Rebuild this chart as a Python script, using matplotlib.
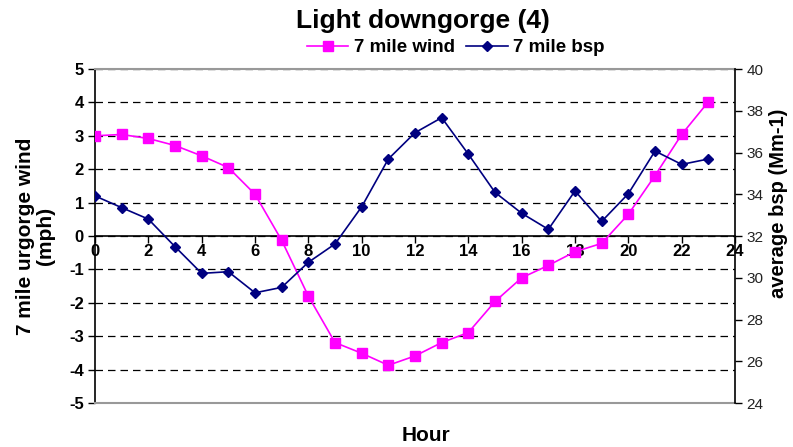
import matplotlib.pyplot as plt
import numpy as np

hours = list(range(24))
wind = [3.0, 3.04, 2.92, 2.71, 2.40, 2.05, 1.25, -0.13, -1.80, -3.19, -3.51, -3.87,
        -3.59, -3.19, -2.89, -1.96, -1.25, -0.88, -0.47, -0.22, 0.65, 1.81, 3.04, 4.02]
bsp = [33.92, 33.36, 32.81, 31.49, 30.21, 30.29, 29.28, 29.54, 30.74, 31.62, 33.40, 35.69,
       36.95, 37.67, 35.92, 34.09, 33.09, 32.32, 34.16, 32.70, 34.03, 36.07, 35.43, 35.69]
x_ticks = list(range(0, 25, 2))
wind_ticks = list(range(-5, 6))
bsp_ticks = list(range(24, 41, 2))

plt.rcParams['font.family'] = ['Liberation Sans', 'DejaVu Sans']

fig = plt.figure(figsize=(7.93, 4.47), dpi=100)
ax = fig.add_axes([0.1198, 0.0984, 0.8071, 0.7472])
ax2 = ax.twinx()

# spine position first: it resets the ticks
ax.spines['bottom'].set_position(('data', 0))
ax.spines['bottom'].set_linewidth(1.2)
ax.spines['left'].set_linewidth(1.2)
ax.spines['top'].set_color('#999999')
ax.spines['top'].set_linewidth(1.5)
ax.spines['right'].set_visible(False)

# left axis: wind
ax.set_xlim(0, 24)
ax.set_ylim(-5, 5)
ax.set_yticks(wind_ticks)
ax.set_yticklabels([str(v) for v in wind_ticks], fontweight='bold', fontsize=12)
ax.set_xticks(x_ticks)
ax.set_xticklabels([str(v) for v in x_ticks], fontweight='bold', fontsize=12)
ax.tick_params(axis='x', direction='out', length=5, pad=1, width=1)
ax.tick_params(axis='y', direction='out', length=5, pad=3, width=1)
ax.yaxis.grid(True, color='black', linestyle=(0, (6, 4)), linewidth=0.9)
ax.set_axisbelow(True)
ax.axhline(-5, color='#999999', linewidth=1.5, clip_on=False, zorder=3)

l1, = ax.plot(hours, wind, color='#FF00FF', marker='s', markersize=7,
              linewidth=1.2, label='7 mile wind', zorder=4)

# right axis: bsp
ax2.set_ylim(24, 40)
ax2.set_yticks(bsp_ticks)
ax2.set_yticklabels([str(v) for v in bsp_ticks], fontsize=11, color='#222222')
ax2.tick_params(axis='y', direction='out', length=5, pad=3, width=1)
for s in ['top', 'bottom', 'left']:
    ax2.spines[s].set_visible(False)
ax2.spines['right'].set_linewidth(1.2)

l2, = ax2.plot(hours, bsp, color='#000080', marker='D', markersize=5.5,
               linewidth=1.2, label='7 mile bsp', zorder=4)

fig.text(0.533, 0.952, 'Light downgorge (4)', ha='center', va='center',
         fontsize=19, fontweight='bold')
fig.legend(handles=[l1, l2], loc='center', bbox_to_anchor=(0.575, 0.893), ncol=2,
           frameon=False, prop={'weight': 'bold', 'size': 13.5},
           handlelength=2.2, handletextpad=0.3, columnspacing=0.6)

fig.text(0.045, 0.472, '7 mile urgorge wind\n(mph)', rotation=90, ha='center',
         va='center', fontsize=15, fontweight='bold', linespacing=1.1)
fig.text(0.982, 0.545, 'average bsp (Mm-1)', rotation=90, ha='center', va='center',
         fontsize=14.5, fontweight='bold')
fig.text(0.537, 0.025, 'Hour', ha='center', va='center', fontsize=15, fontweight='bold')

fig.savefig('out.png', dpi=100)
